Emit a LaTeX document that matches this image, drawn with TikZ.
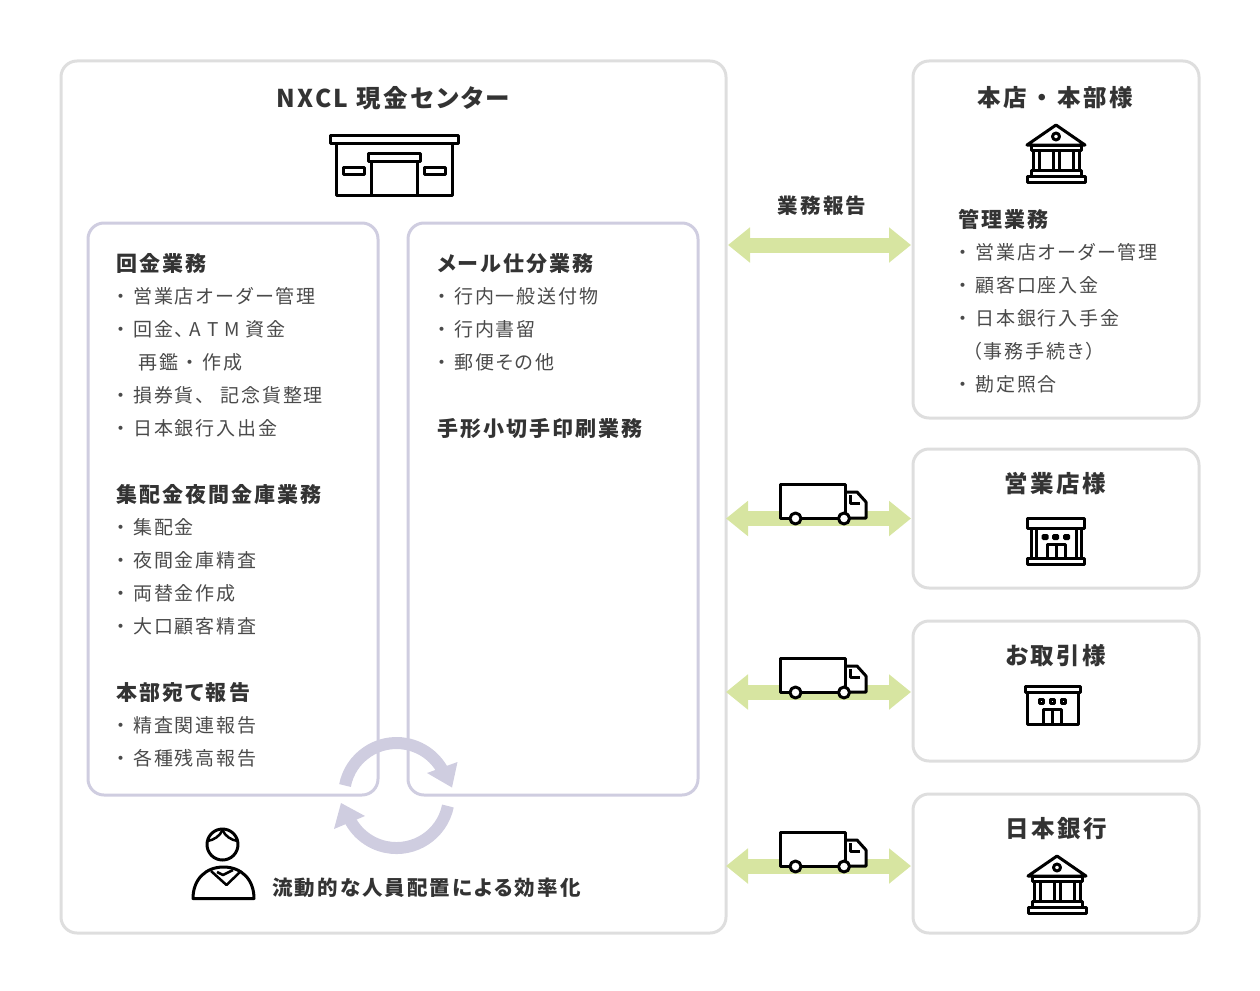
\documentclass[tikz,border=0pt]{standalone}
\usepackage{fontspec}
\setmainfont[LetterSpace=10,RawFeature=+palt]{Noto Sans CJK JP}
\usetikzlibrary{arrows.meta}
\definecolor{frameline}{HTML}{DEDEDE}
\definecolor{panelline}{HTML}{CFCDE0}
\definecolor{flowgreen}{HTML}{D7E5A1}
\definecolor{bodytext}{HTML}{4A4A4A}
\definecolor{headtext}{HTML}{333333}
\newcommand{\bh}[1]{\raisebox{-1pt}{\bfseries\color{headtext}\fontsize{21}{33}\selectfont #1}}
\newcommand{\itm}[1]{\makebox[17pt][l]{・}#1}
\newcommand{\md}{\makebox[1.3em][c]{・}}
\begin{document}
\begin{tikzpicture}[
    x=1pt,y=-1pt,
    frame/.style={
      rectangle,
      draw=frameline,
      line width=3pt,
      rounded corners=16pt,
      outer sep=0pt,
      minimum width=286pt
    },
    panel/.style={
      rectangle,
      draw=panelline,
      line width=3pt,
      rounded corners=16pt,
      outer sep=0pt,
      minimum width=290pt,
      minimum height=572pt
    },
    title/.style={
      inner sep=0pt,
      text=headtext,
      font=\bfseries\fontsize{23.5}{28}\selectfont
    },
    list/.style={
      anchor=north west,
      inner sep=0pt,
      align=left,
      text=bodytext,
      font=\fontsize{19}{33}\selectfont
    },
    flow/.style={
      draw=flowgreen,
      line width=15pt,
      shorten >=2pt,
      {Triangle[length=22pt,width=34pt]}-{Triangle[length=22pt,width=34pt]}
    },
    turn/.style={
      draw=panelline,
      line width=12pt
    },
    icon/.style={
      draw=black,
      line width=3pt,
      line join=round
    },
    truck/.pic={
      \draw[icon,fill=white] (65,8) -- (77,8) -- (86,18) -- (86,34) -- (65,34) -- cycle;
      \draw[icon] (70,11) -- (70,19) -- (80,19);
      \draw[icon,fill=white] (0,0) rectangle (65,34);
      \draw[icon,fill=white] (15.5,34.5) circle[radius=5.5];
      \draw[icon,fill=white] (64,34.5) circle[radius=5.5];
    },
    bank/.pic={
      \draw[icon] (0,21) -- (29,1) -- (58,21) -- cycle;
      \draw[icon] (29,12.5) circle[radius=3.5];
      \draw[icon] (4,21) rectangle (54,26);
      \foreach \cx in {6,26,46} {
        \draw[icon] (\cx,26) rectangle ++(6,20);
      }
      \draw[icon] (4,46) rectangle (54,52);
      \draw[icon] (0,52) rectangle (58,58);
    };
  ]
\useasboundingbox (0,0) rectangle (1260,990);

\node[frame,minimum width=665pt,minimum height=872pt] (center) at (393.5,497) {};
\node[frame,minimum height=357pt] (honten) at (1056,239.5) {};
\node[frame,minimum height=139pt] (eigyo) at (1056,518.5) {};
\node[frame,minimum height=140pt] (torihiki) at (1056,691) {};
\node[frame,minimum height=139pt] (nichigin) at (1056,863.5) {};

\node[panel] (kaikin) at (233,509) {};
\node[panel] (mail) at (553,509) {};

\draw[turn] (345,785.5) arc[start angle=-169,end angle=-20,radius=52.5];
\fill[panelline] (457.5,762) -- (427,773) -- (452,787.5) -- cycle;
\draw[turn] (447.9,806) arc[start angle=11.5,end angle=160,radius=52.5];
\fill[panelline] (334,829) -- (365,816) -- (341,803) -- cycle;

\node[title,font=\bfseries\fontsize{24.5}{28}\selectfont] (centertitle) at (393,98) {NXCL 現金センター};
\node[title] (hontentitle) at (1055,98) {本店\md 本部様};
\node[title] (eigyotitle) at (1055,484) {営業店様};
\node[title] (torihikititle) at (1056,656) {お取引様};
\node[title] (nichigintitle) at (1056,829) {日本銀行};

\node[list] (kaikintext) at (116,253) {
  \bh{回金業務}\\
  \itm{営業店オーダー管理}\\
  \itm{回金、\hspace{5pt}A\hspace{6pt}T\hspace{6pt}M\hspace{6pt}資金}\\
  \hspace{22pt}再鑑\md 作成\\
  \itm{損券貨、\hspace{15pt}記念貨整理}\\
  \itm{日本銀行入出金}\\
  ~\\
  \bh{集配金夜間金庫業務}\\
  \itm{集配金}\\
  \itm{夜間金庫精査}\\
  \itm{両替金作成}\\
  \itm{大口顧客精査}\\
  ~\\
  \bh{本部宛て報告}\\
  \itm{精査関連報告}\\
  \itm{各種残高報告}
};
\node[list] (mailtext) at (437,253) {
  \bh{メール仕分業務}\\
  \itm{行内一般送付物}\\
  \itm{行内書留}\\
  \itm{郵便その他}\\
  ~\\
  \bh{手形小切手印刷業務}
};
\node[list] (hontentext) at (958,209.5) {
  \bh{管理業務}\\
  \itm{営業店オーダー管理}\\
  \itm{顧客口座入金}\\
  \itm{日本銀行入手金}\\
  \hspace{14pt}（事務手続き）\\
  \itm{勘定照合}
};

\coordinate (row1) at (820,245);
\coordinate (row2) at (820,518.5);
\coordinate (row3) at (820,692);
\coordinate (row4) at (820,866);

\draw[flow,shorten <=2pt] (center.east |- row1) -- (honten.west |- row1);
\draw[flow] (center.east |- row2) -- (eigyo.west |- row2);
\draw[flow] (center.east |- row3) -- (torihiki.west |- row3);
\draw[flow] (center.east |- row4) -- (nichigin.west |- row4);

\node[title,font=\bfseries\fontsize{20.5}{28}\selectfont] (houkoku) at (822,206) {業務報告};
\pic at (780,484) {truck};
\pic at (780,658) {truck};
\pic at (780,832) {truck};

\draw[icon] (330.5,135.5) rectangle (458,143);
\draw[icon] (336,143) rectangle (452,195);
\draw[icon] (368,153.5) rectangle (420,161);
\draw[icon] (371,161) rectangle (417,195);
\draw[icon] (343,167) rectangle (364,174);
\draw[icon] (424,167) rectangle (445,174);

\pic at (1027,124) {bank};
\pic at (1028,855) {bank};

\draw[icon] (1027.5,518) rectangle (1084.5,528.5);
\draw[icon] (1031,528.5) -- (1031,558) (1036,528.5) -- (1036,558);
\draw[icon] (1076,528.5) -- (1076,558) (1081,528.5) -- (1081,558);
\draw[icon] (1027.5,558.5) rectangle (1084.5,564.5);
\foreach \dx in {1045,1055.7,1066.7} {
  \fill[rounded corners=1.5pt] (\dx-3.5,534) rectangle (\dx+3.5,540);
}
\draw[icon] (1047,544.5) rectangle (1065,558.5);
\draw[icon] (1056,544.5) -- (1056,558.5);

\draw[icon] (1025.5,686) rectangle (1080.5,692);
\draw[icon] (1027.5,692) rectangle (1078.5,724);
\foreach \dx in {1041.7,1052.7,1063.3} {
  \draw[icon,line width=2.5pt] (\dx-2,699.5) rectangle (\dx+2,703.5);
}
\draw[icon] (1043.5,709.5) rectangle (1061.5,724);
\draw[icon] (1052.5,709.5) -- (1052.5,724);

\draw[icon] (222.5,844.5) circle[radius=15.5];
\draw[icon,line width=2.5pt] (207.5,841) .. controls (214,840) and (220,836) .. (222.5,830);
\draw[icon,line width=2.5pt] (222.5,830) .. controls (225,836) and (231,840) .. (237.5,841);
\draw[icon] (193,898.5) .. controls (193,879) and (206,867) .. (223.5,867) .. controls (241,867) and (254,879) .. (254,898.5) -- cycle;
\draw[icon,line width=2.5pt] (211,871) -- (226.5,885) -- (241,871);
\draw[icon,line width=2.5pt] (217,872) -- (223,875) -- (233,870);

\node[title,font=\bfseries\fontsize{20.5}{28}\selectfont] (kouritsu) at (426.5,888) {流動的な人員配置による効率化};
\end{tikzpicture}
\end{document}
